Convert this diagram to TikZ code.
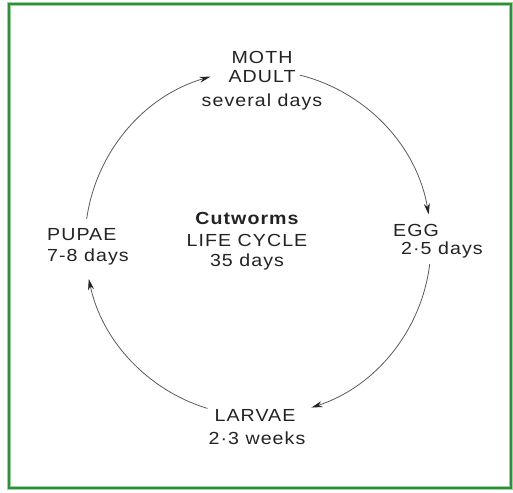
\documentclass[tikz,border=0pt]{standalone}
\usepackage{fontspec}
\setmainfont[FakeStretch=1.12,LetterSpace=6]{Liberation Sans}
\usetikzlibrary{arrows.meta,calc}
\definecolor{framegreen}{RGB}{55,135,70}
\definecolor{framelight}{RGB}{150,215,150}
\definecolor{ink}{RGB}{35,35,35}
\begin{document}
\begin{tikzpicture}[x=1pt,y=1pt,
  lbl/.style={font=\fontsize{17.5}{20}\selectfont, text=ink, inner sep=0pt},
  cyc/.style={draw=ink!75, line width=0.8pt},
  tip/.style={-{Stealth[length=11pt,width=6pt,color=ink]}}]
\useasboundingbox (0,0) rectangle (513,492);
\fill[white] (0,0) rectangle (513,492);
\draw[framelight, line width=4pt] (9,4) rectangle (511,488);
\draw[framegreen, line width=2pt] (9,4) rectangle (511,488);
% labels
\node[lbl] (moth) at (262,435) {MOTH};
\node[lbl] (adult) at (262,415) {ADULT};
\node[lbl] (sev) at (262,390) {several days};
\node[lbl, font=\bfseries\fontsize{17.5}{20}\selectfont] (cut) at (247,274) {Cutworms};
\node[lbl] (life) at (247,252) {LIFE CYCLE};
\node[lbl] (d35) at (247,230) {35 days};
\node[lbl, anchor=west] (egg) at (393,262) {EGG};
\node[lbl, anchor=west] (egg2) at (401,242) {2·5 days};
\node[lbl, anchor=west] (pupae) at (47,257) {PUPAE};
\node[lbl, anchor=west] (pupae2) at (47,235) {7-8 days};
\node[lbl] (larvae) at (255,77) {LARVAE};
\node[lbl] (larvae2) at (257,54) {2·3 weeks};
% circle connectors
\coordinate (c) at (258,249);
\coordinate (p1) at ($(c)+(172:173)$);
\coordinate (a1) at ($(c)+(76:173)$);
\coordinate (e1) at ($(c)+(-7:173)$);
\coordinate (l1) at ($(c)+(-107:173)$);
\draw[cyc,tip] (p1) arc[start angle=172,end angle=106,radius=173];
\draw[cyc,tip] (a1) arc[start angle=76,end angle=9.5,radius=173];
\draw[cyc,tip] (e1) arc[start angle=-7,end angle=-72,radius=173];
\draw[cyc,tip] (l1) arc[start angle=-107,end angle=-168,radius=173];
\end{tikzpicture}
\end{document}
